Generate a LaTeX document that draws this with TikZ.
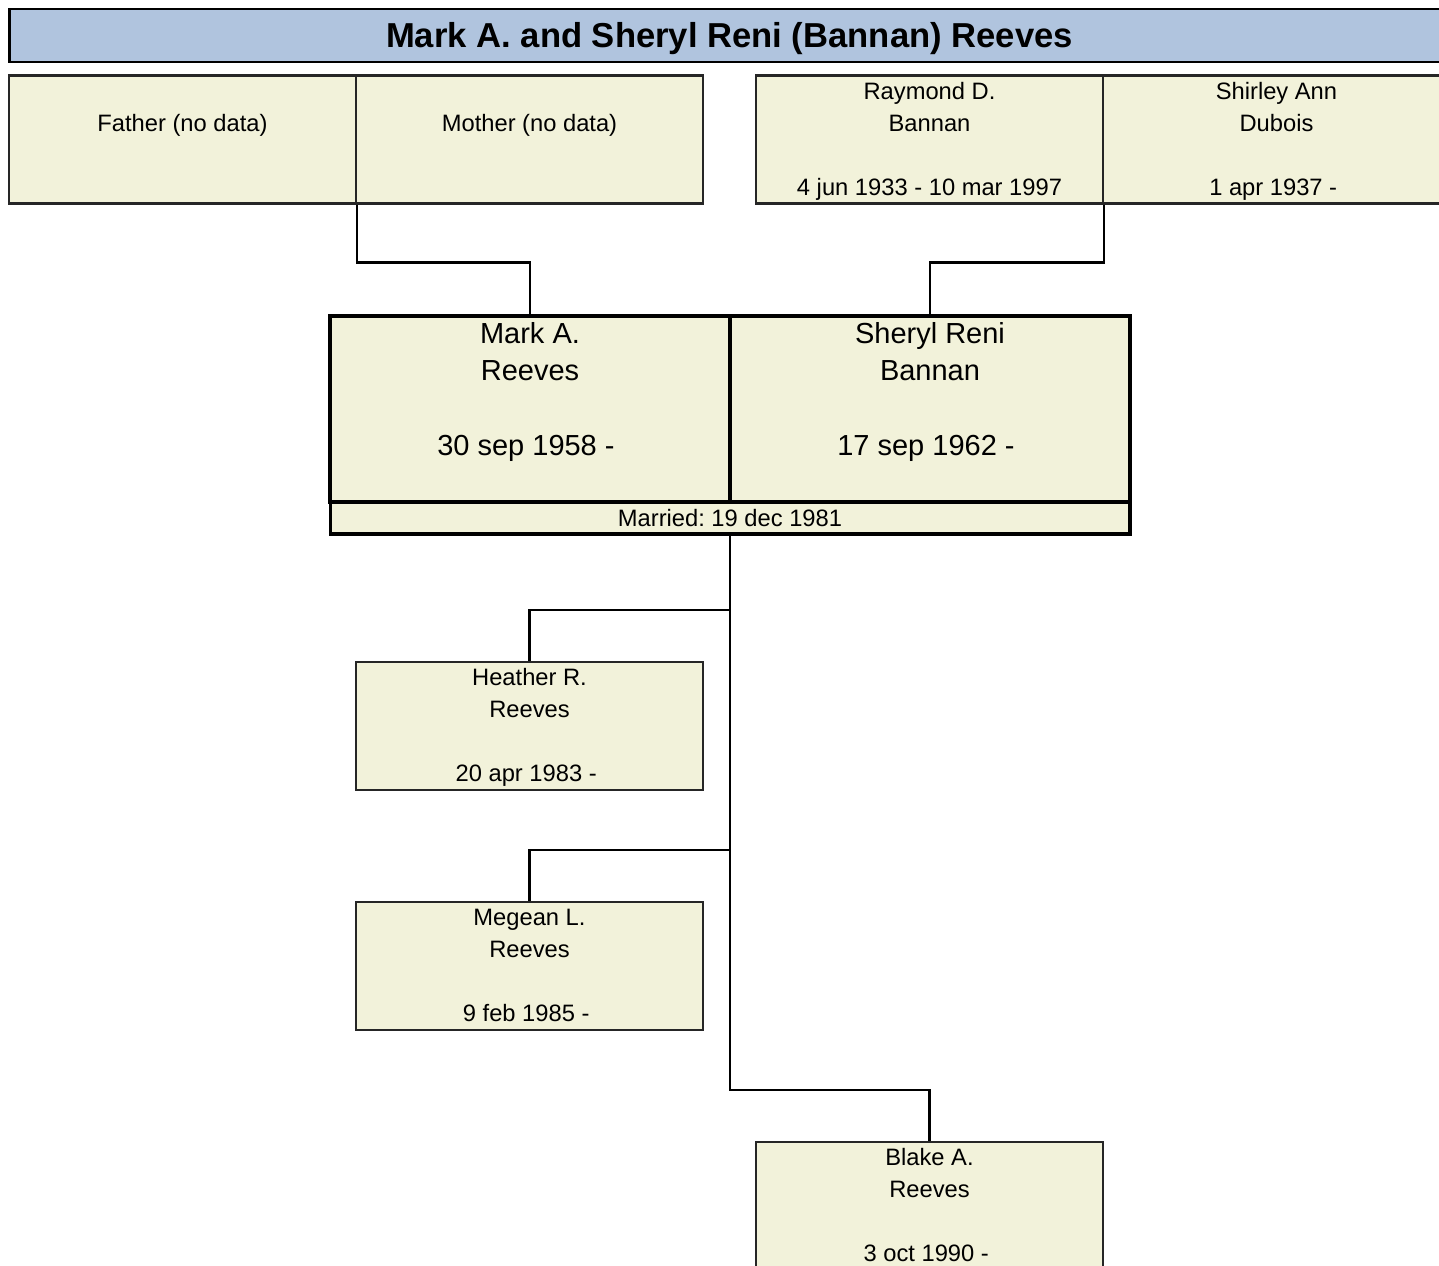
\documentclass[tikz,border=0pt]{standalone}
\usepackage{fontspec}
\setmainfont{Liberation Sans}
\frenchspacing

\definecolor{titleblue}{HTML}{B0C4DE}
\definecolor{cream}{HTML}{F2F2DA}

% open-ended life span, with the trailing space of the source
\newcommand{\living}[1]{#1 -\hbox{\ }}

\tikzset{
    pbox/.style={draw=black!85, line width=1.2pt, fill=cream,
        minimum width=6.94cm, minimum height=2.56cm, inner sep=0pt},
    mainbox/.style={draw=black, line width=1.8pt, fill=cream,
        minimum width=8cm, minimum height=3.72cm, inner sep=0pt},
    boxtext/.style={anchor=north, align=center, inner sep=0pt, yshift=-0.04cm,
        font=\fontsize{13.5}{18.2}\selectfont},
    maintext/.style={anchor=north, align=center, inner sep=0pt, yshift=-0.045cm,
        font=\fontsize{16.5}{21.3}\selectfont},
    link/.style={draw=black, line width=1.2pt}
}

\begin{document}
\begin{tikzpicture}[x=0.02cm, y=-0.02cm]

    % Page frame (pixel coordinates)
    \useasboundingbox (0,0) rectangle (1439,1266);
    \clip (0,0) rectangle (1439,1266);

    % Title bar
    \node[draw=black, line width=1.6pt, fill=titleblue, minimum width=28.82cm,
        minimum height=1.06cm, text height=14.1pt, text depth=0pt,
        font=\bfseries\fontsize{19.7}{23}\selectfont]
        (title) at (729.5,35.5) {Mark A. and Sheryl Reni (Bannan) Reeves};

    % Parents of the couple
    \node[pbox, label={[boxtext]north:{\strut\\Father (no data)}}] (father) at (182.5,139.5) {};
    \node[pbox, label={[boxtext]north:{\strut\\Mother (no data)}}] (mother) at (529.5,139.5) {};
    \node[pbox, label={[boxtext]north:{\strut Raymond D.\\Bannan\\\strut\\4 jun 1933 - 10 mar 1997}}]
        (raymond) at (929.5,139.5) {};
    \node[pbox, label={[boxtext]north:{\strut Shirley Ann\\Dubois\\\strut\\\living{1 apr 1937}}}]
        (shirley) at (1276.5,139.5) {};

    % The couple
    \node[mainbox, label={[maintext]north:{\strut Mark A.\\Reeves\\\strut\\\living{30 sep 1958}}}]
        (mark) at (530,409) {};
    \node[mainbox, label={[maintext]north:{\strut Sheryl Reni\\Bannan\\\strut\\\living{17 sep 1962}}}]
        (sheryl) at (930,409) {};
    \node[draw=black, line width=1.8pt, fill=cream, minimum width=16cm, minimum height=0.64cm,
        inner sep=0pt, font=\fontsize{13.5}{16}\selectfont]
        (married) at (730,518) {Married: 19 dec 1981};

    % Children
    \node[pbox, label={[boxtext]north:{\strut Heather R.\\Reeves\\\strut\\\living{20 apr 1983}}}]
        (heather) at (529.5,726) {};
    \node[pbox, label={[boxtext]north:{\strut Megean L.\\Reeves\\\strut\\\living{9 feb 1985}}}]
        (megean) at (529.5,966) {};
    \node[pbox, label={[boxtext]north:{\strut Blake A.\\Reeves\\\strut\\\living{3 oct 1990}}}]
        (blake) at (929.5,1206) {};

    % Parent links
    \draw[link] (father.south east) -- ++(0,58) -| (mark.north);
    \draw[link] (raymond.south east) -- ++(0,58) -| (sheryl.north);

    % Child links
    \draw[link] (married.south) -- ++(0,554) -| (blake.north);
    \draw[link] (married.south) ++(0,74) -| (heather.north);
    \draw[link] (married.south) ++(0,314) -| (megean.north);

\end{tikzpicture}
\end{document}
